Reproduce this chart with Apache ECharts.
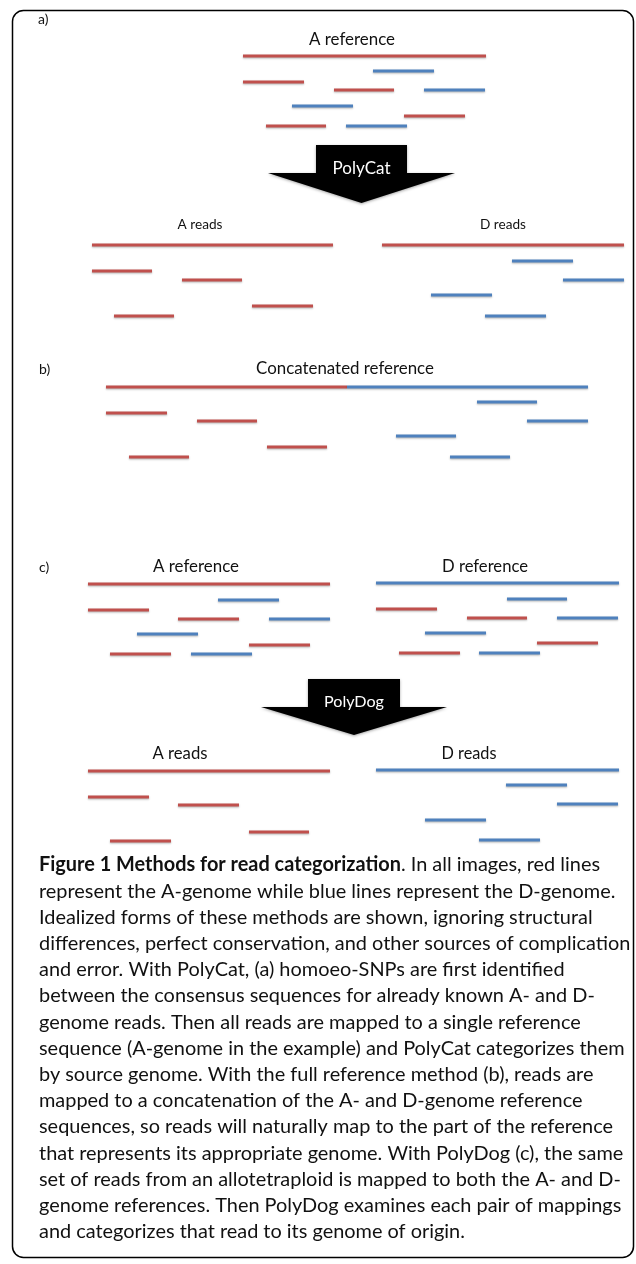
<!DOCTYPE html>
<html><head><meta charset="utf-8">
<script src="https://cdn.jsdelivr.net/npm/echarts@6/dist/echarts.min.js"></script>
<style>html,body{margin:0;padding:0;background:#fff}#c{width:636px;height:1264px}</style>
</head><body><div id="c"></div>
<script>
// ---- DATA: reads as [start, end, row, genome] ; genome 0 = A (red), 1 = D (blue)
const readsA_reference = [[243,486,56,0],[373,434,71,1],[243,304,82,0],[334,394,90,0],[424,485,90,1],[292,353,106,1],[404,465,116,0],[266,326,126,0],[346,407,126,1]];
const readsA_Areads = [[92,333,245,0],[92,152,271,0],[182,242,280,0],[252,313,306,0],[114,174,316,0]];
const readsA_Dreads = [[382,624,245,0],[512,573,261,1],[563,624,280,1],[431,492,295,1],[485,546,316,1]];
const readsB_concat = [[106,347,387,0],[347,588,387,1],[477,537,402,1],[106,167,413,0],[197,257,421,0],[527,588,421,1],[396,456,436,1],[267,327,447,0],[129,189,457,0],[450,510,457,1]];
const readsC_Aref = [[88,330,584,0],[218,279,600,1],[88,149,610,0],[178,239,619,0],[269,330,619,1],[137,198,634,1],[249,310,645,0],[110,171,654,0],[191,252,654,1]];
const readsC_Dref = [[376,619,583,1],[507,567,599,1],[376,437,609,0],[467,527,618,0],[557,618,618,1],[425,486,633,1],[537,598,643,0],[399,460,653,0],[479,540,653,1]];
const readsC_Areads = [[88,330,771,0],[88,149,797,0],[178,239,805,0],[249,309,832,0],[110,171,841,0]];
const readsC_Dreads = [[376,619,770,1],[506,567,785,1],[557,618,804,1],[425,486,820,1],[479,540,840,1]];
// arrows: [centre, top, shoulder, tip, boxHalfWidth, headHalfWidth]
const arrowNames = ['PolyCat','PolyDog'];
const arrows = [[361.5,145,173,203,45.5,93.5],[354,679,707,735,46,93]];
// labels text and anchor
const labelTexts = ['a)','A reference','PolyCat','A reads','D reads','b)','Concatenated reference','c)','A reference','D reference','PolyDog','A reads','D reads'];
const labelAnchors = [[38,19],[352,40],[361.5,169],[200,225],[503,225],[39,369],[345,369],[39,567],[196,567],[485,567],[354,702],[180,754],[469,754]];
const labelWidths = [12,86,58,45,46,12,178,12,86,86,60,55,55];
const captionLines = [
 ['Figure 1 Methods for read categorization','. In all images, red lines'],
 ['','represent the A-genome while blue lines represent the D-genome.'],
 ['','Idealized forms of these methods are shown, ignoring structural'],
 ['','differences, perfect conservation, and other sources of complication'],
 ['','and error. With PolyCat, (a) homoeo-SNPs are first identified'],
 ['','between the consensus sequences for already known A- and D-'],
 ['','genome reads. Then all reads are mapped to a single reference'],
 ['','sequence (A-genome in the example) and PolyCat categorizes them'],
 ['','by source genome. With the full reference method (b), reads are'],
 ['','mapped to a concatenation of the A- and D-genome reference'],
 ['','sequences, so reads will naturally map to the part of the reference'],
 ['','that represents its appropriate genome. With PolyDog (c), the same'],
 ['','set of reads from an allotetraploid is mapped to both the A- and D-'],
 ['','genome references. Then PolyDog examines each pair of mappings'],
 ['','and categorizes that read to its genome of origin.']
];

// ---- layout
const FONT = 'Lato';
const COLORS = ['#c0504d','#4f81bd'];
const cv = document.createElement('canvas').getContext('2d');
function fit(text, target, weight){ cv.font = (weight||'normal')+' 100px '+FONT; return 100*target/cv.measureText(text).width; }
const capSize = fit(captionLines[1][1], 577);

function readsSeries(data){
  return {type:'custom', coordinateSystem:'cartesian2d', data, encode:{x:[0,1], y:2}, silent:true,
    renderItem:(p,api)=>{
      const a=api.coord([api.value(0),api.value(2)]), b=api.coord([api.value(1),api.value(2)]);
      return {type:'line', shape:{x1:a[0],y1:a[1],x2:b[0],y2:b[1]},
        style:{stroke:COLORS[api.value(3)], lineWidth:3, lineCap:'butt', shadowBlur:2, shadowOffsetY:1, shadowColor:'rgba(0,0,0,0.3)'}};
    }};
}
const series = [readsA_reference,readsA_Areads,readsA_Dreads,readsB_concat,readsC_Aref,readsC_Dref,readsC_Areads,readsC_Dreads].map(readsSeries);
series.push({type:'custom', coordinateSystem:'cartesian2d', data:arrows, encode:{x:0,y:1}, silent:true,
  renderItem:(p,api)=>{
    const c=api.value(0), t=api.value(1), s=api.value(2), tip=api.value(3), bh=api.value(4), hh=api.value(5);
    const pts=[[c-bh,t],[c+bh,t],[c+bh,s],[c+hh,s],[c,tip],[c-hh,s],[c-bh,s]].map(q=>api.coord(q));
    return {type:'polygon', shape:{points:pts}, style:{fill:'#000', shadowBlur:3, shadowOffsetY:1, shadowColor:'rgba(0,0,0,0.35)'}};
  }});
series.push({type:'custom', coordinateSystem:'cartesian2d', data:labelAnchors.map((a,i)=>[a[0],a[1],i]), encode:{x:0,y:1}, silent:true,
  renderItem:(p,api)=>{
    const i=api.value(2), pt=api.coord([api.value(0),api.value(1)]);
    const txt=labelTexts[i];
    const small = txt.length===2;
    const size = small ? 14 : fit(txt, labelWidths[i]);
    const inArrow = txt.indexOf('Poly')===0;
    return {type:'text', x:pt[0], y:pt[1], style:{text:txt, fontFamily:FONT, fontSize:size, fill: inArrow?'#fff':'#111', align: small?'left':'center', verticalAlign:'middle'}};
  }});

const graphic = [{type:'rect', shape:{x:12.5,y:10.5,width:621,height:1247,r:11}, style:{fill:'none', stroke:'#000', lineWidth:1.5}, silent:true}];
captionLines.forEach((ln,i)=>{
  graphic.push({type:'text', x:39, y:865+i*26.2, silent:true,
    style:{text:(ln[0]?'{b|'+ln[0]+'}':'')+'{r|'+ln[1]+'}', verticalAlign:'middle', align:'left',
      rich:{b:{fontFamily:FONT,fontSize:capSize,fontWeight:'bold',fill:'#111'}, r:{fontFamily:FONT,fontSize:capSize,fill:'#111'}}}});
});

const chart = echarts.init(document.getElementById('c'));
chart.setOption({animation:false, backgroundColor:'#fff',
  grid:{left:0,right:0,top:0,bottom:0},
  xAxis:{type:'value',min:0,max:636,show:false},
  yAxis:{type:'value',min:0,max:1264,inverse:true,show:false},
  series, graphic});
</script></body></html>
